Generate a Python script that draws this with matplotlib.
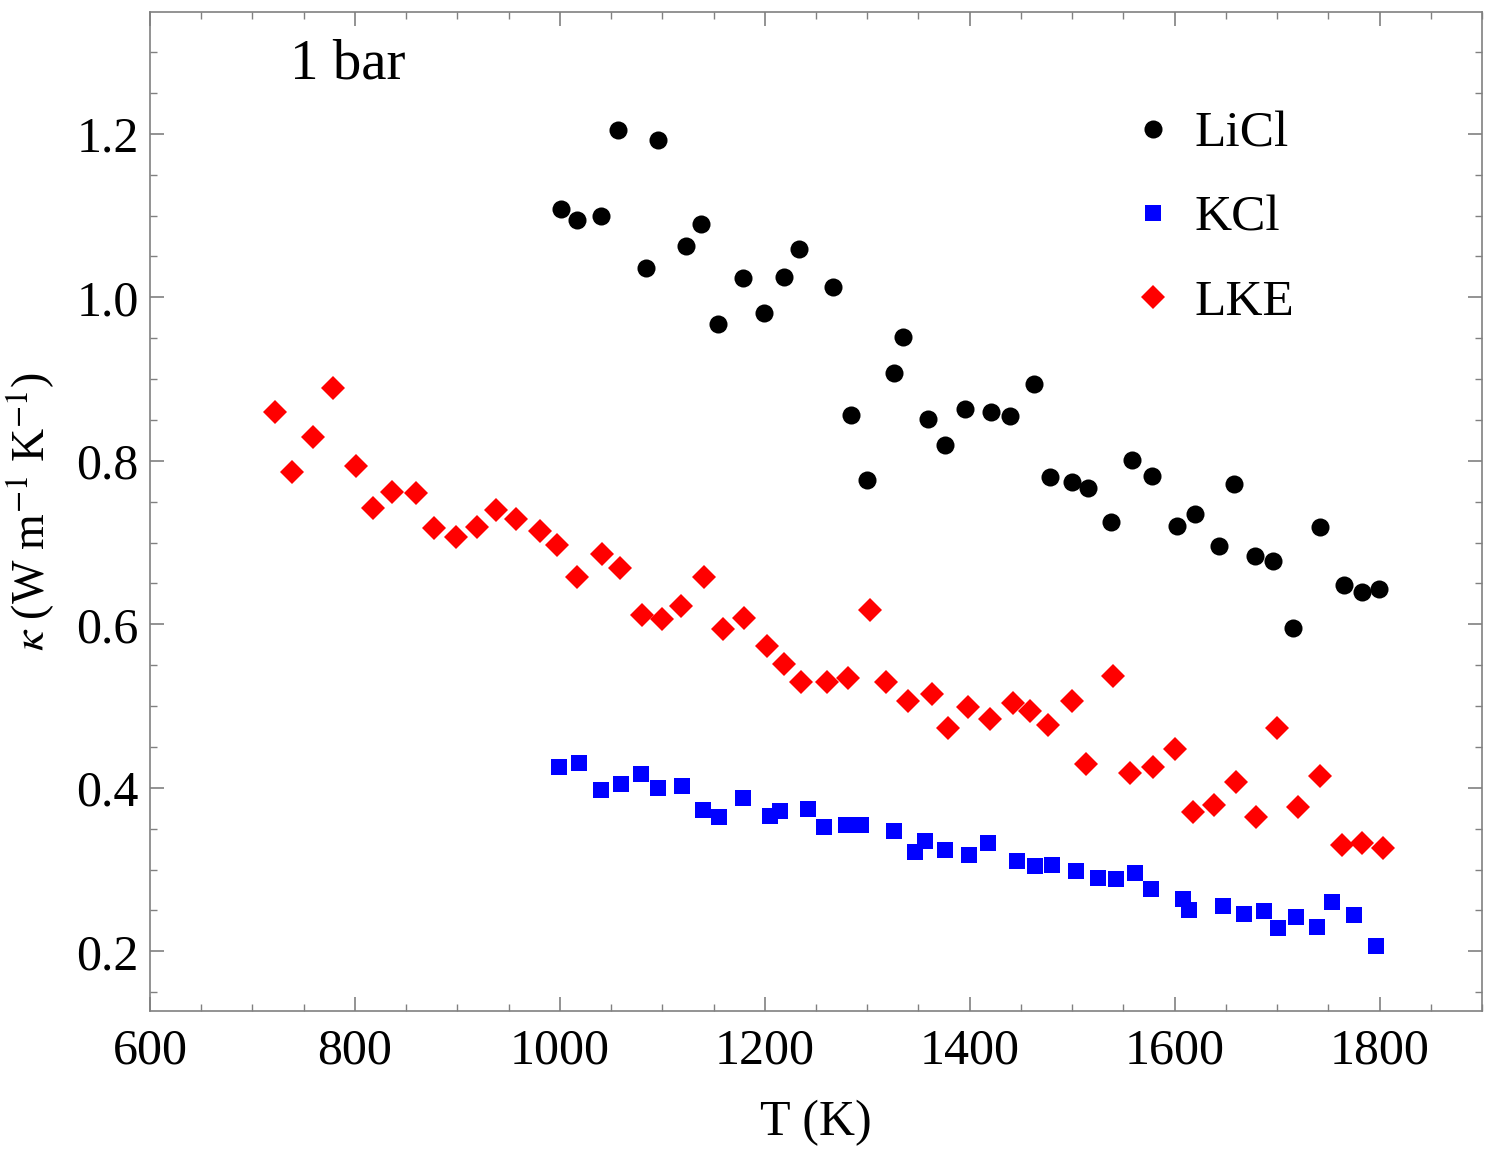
import matplotlib
matplotlib.use("Agg")
import matplotlib.pyplot as plt
from matplotlib.ticker import MultipleLocator

plt.rcParams['font.family'] = ['Liberation Serif', 'DejaVu Serif']
plt.rcParams['mathtext.fontset'] = 'stix'

# LiCl
licl_T = [1001, 1017, 1040, 1057, 1084, 1096, 1123, 1138, 1154, 1179, 1199, 1219, 1233,
          1267, 1284, 1300, 1326, 1335, 1359, 1376, 1395, 1421, 1439, 1463, 1478, 1500,
          1515, 1538, 1558, 1578, 1602, 1620, 1643, 1658, 1678, 1696, 1716, 1742, 1765,
          1783, 1799]
licl_k = [1.108, 1.095, 1.100, 1.205, 1.036, 1.193, 1.063, 1.090, 0.967, 1.023, 0.981,
          1.025, 1.059, 1.012, 0.856, 0.777, 0.907, 0.952, 0.851, 0.819, 0.863, 0.860,
          0.855, 0.894, 0.780, 0.774, 0.767, 0.725, 0.801, 0.781, 0.720, 0.735, 0.696,
          0.772, 0.683, 0.677, 0.595, 0.719, 0.648, 0.639, 0.643]

# KCl
kcl_T = [999, 1019, 1040, 1060, 1079, 1096, 1119, 1140, 1155, 1179, 1205, 1215, 1242,
         1258, 1279, 1294, 1326, 1347, 1356, 1376, 1399, 1418, 1446, 1464, 1480, 1504,
         1525, 1543, 1561, 1577, 1608, 1614, 1647, 1668, 1687, 1701, 1718, 1739, 1754,
         1775, 1797]
kcl_k = [0.426, 0.430, 0.397, 0.405, 0.417, 0.400, 0.402, 0.373, 0.364, 0.387, 0.366,
         0.372, 0.374, 0.352, 0.355, 0.355, 0.347, 0.322, 0.335, 0.324, 0.318, 0.332,
         0.311, 0.305, 0.306, 0.298, 0.290, 0.288, 0.296, 0.276, 0.264, 0.250, 0.255,
         0.246, 0.249, 0.228, 0.242, 0.230, 0.260, 0.244, 0.207]

# LKE
lke_T = [722, 739, 759, 779, 801, 818, 836, 860, 877, 899, 919, 938, 957, 981, 997,
         1017, 1041, 1059, 1080, 1100, 1118, 1141, 1159, 1180, 1202, 1219, 1235, 1261,
         1281, 1303, 1318, 1340, 1363, 1379, 1398, 1420, 1442, 1459, 1476, 1500, 1514,
         1540, 1556, 1579, 1600, 1618, 1638, 1660, 1679, 1700, 1720, 1742, 1763, 1783,
         1803]
lke_k = [0.860, 0.786, 0.829, 0.889, 0.794, 0.742, 0.762, 0.761, 0.718, 0.707, 0.719,
         0.740, 0.729, 0.714, 0.697, 0.658, 0.686, 0.669, 0.612, 0.606, 0.623, 0.658,
         0.594, 0.608, 0.573, 0.551, 0.530, 0.530, 0.534, 0.617, 0.529, 0.506, 0.515,
         0.473, 0.499, 0.484, 0.504, 0.494, 0.477, 0.506, 0.429, 0.537, 0.418, 0.425,
         0.448, 0.371, 0.379, 0.407, 0.364, 0.473, 0.376, 0.414, 0.330, 0.333, 0.327]

fig = plt.figure(figsize=(14.95, 11.51), dpi=100)
ax = fig.add_axes([0.1003, 0.1216, 0.8910, 0.8680])

ax.plot(licl_T, licl_k, 'o', color='black', ms=13, mew=0, label='LiCl')
ax.plot(kcl_T, kcl_k, 's', color='#0000ff', ms=12, mew=0, label='KCl')
ax.plot(lke_T, lke_k, 'D', color='#ff0000', ms=12, mew=0, label='LKE')

ax.set_xlim(600, 1900)
ax.set_ylim(0.127, 1.349)
ax.xaxis.set_major_locator(MultipleLocator(200))
ax.xaxis.set_minor_locator(MultipleLocator(50))
ax.yaxis.set_major_locator(MultipleLocator(0.2))
ax.yaxis.set_minor_locator(MultipleLocator(0.05))
ax.yaxis.set_major_formatter(matplotlib.ticker.FormatStrFormatter('%.1f'))

grey = '#808080'
for s in ax.spines.values():
    s.set_color(grey)
    s.set_linewidth(1.2)
ax.tick_params(which='both', direction='in', top=True, right=True, color=grey,
               labelsize=36)
ax.tick_params(axis='y', pad=8)
ax.tick_params(axis='x', pad=12)
ax.tick_params(which='major', length=10, width=1.2)
ax.tick_params(which='minor', length=5, width=1.0)

ax.set_xlabel('T (K)', fontsize=36, labelpad=18)
ax.set_ylabel(r'$\kappa$ (W m$^{-1}$ K$^{-1}$)', fontsize=33, labelpad=14)

ax.text(0.105, 0.947, '1 bar', transform=ax.transAxes, fontsize=41,
        ha='left', va='center')

ax.legend(loc='upper right', bbox_to_anchor=(0.878, 0.927), frameon=False,
          fontsize=37, handletextpad=0.3, labelspacing=0.72, borderpad=0,
          handlelength=1.0)

fig.savefig('out.png', dpi=100)
